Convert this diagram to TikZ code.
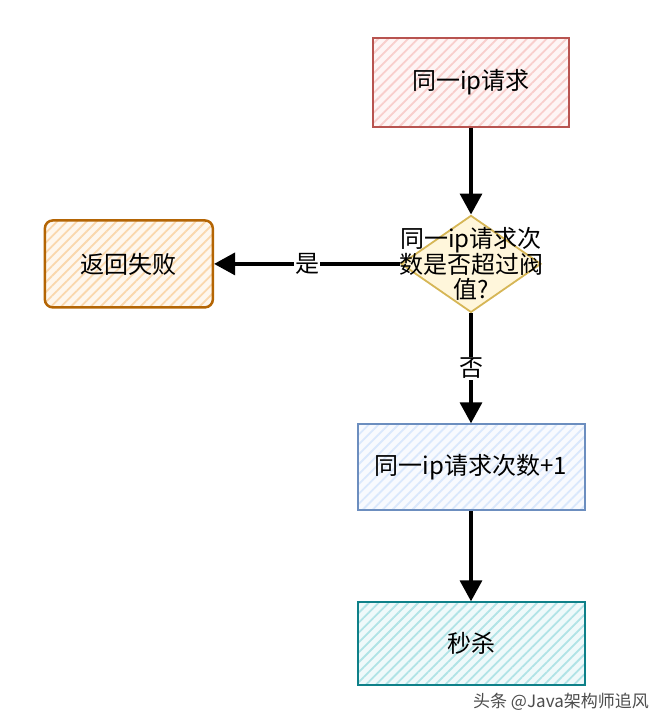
\documentclass[tikz,border=0pt]{standalone}
\usepackage{fontspec}
\newfontfamily\cjk{Noto Sans CJK SC}
\usetikzlibrary{positioning, shapes.geometric, arrows.meta, patterns.meta}

\definecolor{redline}{HTML}{B85450}
\definecolor{redfill}{HTML}{F8CECC}
\definecolor{orangeline}{HTML}{B46504}
\definecolor{orangefill}{HTML}{FAD7AC}
\definecolor{yellowline}{HTML}{D6B656}
\definecolor{yellowfill}{HTML}{FFF2CC}
\definecolor{blueline}{HTML}{6C8EBF}
\definecolor{bluefill}{HTML}{DAE8FC}
\definecolor{tealline}{HTML}{0E8088}
\definecolor{tealfill}{HTML}{B0E3E6}

\begin{document}
\begin{tikzpicture}[x=1pt, y=-1pt, node distance=1cm,
    font=\cjk\fontsize{24}{25}\selectfont,
    box/.style={draw=#1line, line width=2pt,
        preaction={fill=#1fill!20},
        preaction={pattern={Lines[angle=45, distance=7pt, line width=1.8pt]}, pattern color=#1fill},
        minimum width=227pt, minimum height=86pt, inner sep=0pt},
    flow/.style={line width=3.5pt, -{Triangle[length=21pt, width=22pt]}},
    tag/.style={fill=white, inner sep=1pt}]
    \useasboundingbox (0,0) rectangle (666,724);

    % Main column
    \node[box=red, minimum width=196pt, minimum height=89pt] (req) at (471,82) {同一ip请求};
    \node[diamond, draw=yellowline, line width=1.8pt, fill=yellowfill!70, minimum width=140pt, minimum height=97pt,
        inner sep=0pt, below=87pt of req,
        label={[align=center, font=\cjk\fontsize{24}{25}\selectfont]center:同一ip请求次\\数是否超过阀\\值?}] (chk) {};
    \node[box=blue, below=110pt of chk] (inc) {同一ip请求次数+1};
    \node[box=teal, minimum height=83pt, below=90pt of inc] (kill) {秒杀};

    % Failure branch
    \node[box=orange, line width=2.5pt, rounded corners=8pt, minimum width=168pt, minimum height=87pt, left=186pt of chk] (fail) {返回失败};

    % Arrows
    \draw[flow] (req) -- (chk);
    \draw[flow] (chk) -- node[tag] {是} (fail);
    \draw[flow] (chk) -- node[tag] {否} (inc);
    \draw[flow] (inc) -- (kill);

    % Watermark
    \node[text=black!70, font=\cjk\fontsize{17}{19}\selectfont] (wm) at (561,702) {头条 @Java架构师追风};
\end{tikzpicture}
\end{document}
